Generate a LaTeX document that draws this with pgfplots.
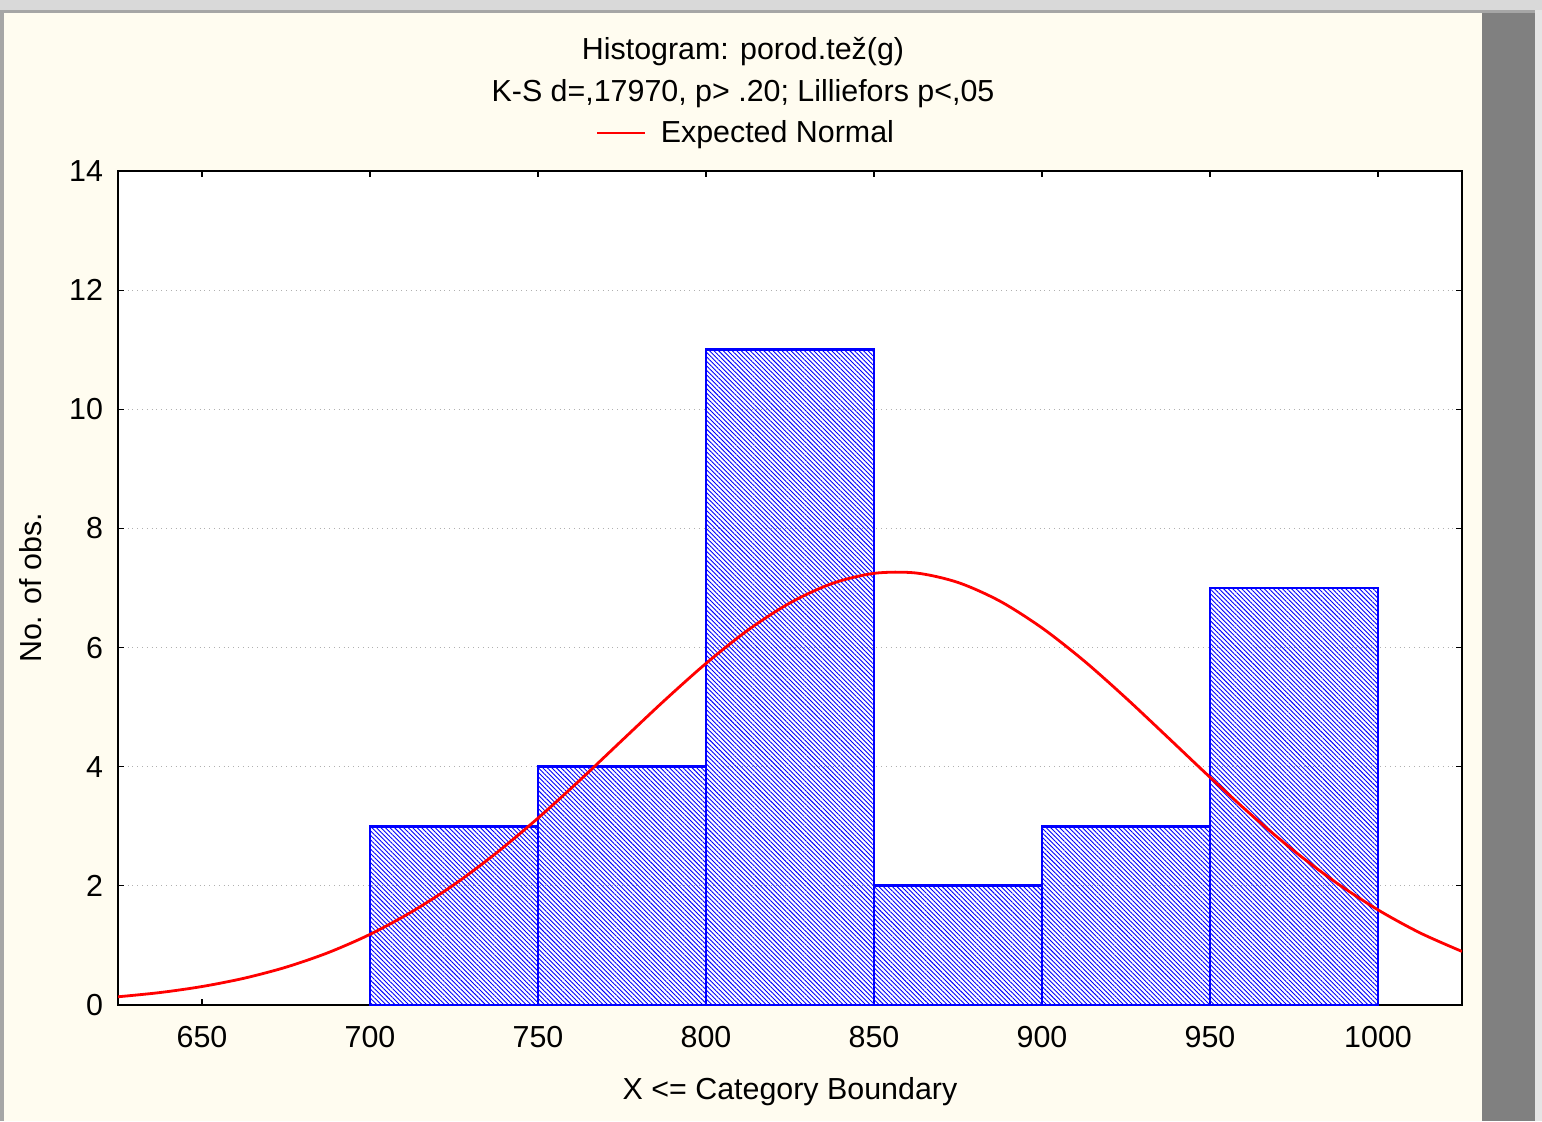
\documentclass[border=0pt]{standalone}
\usepackage{fontspec}
\setmainfont{Liberation Sans}
\usepackage{pgfplots}
\pgfplotsset{compat=1.18}
\usetikzlibrary{patterns.meta}

\definecolor{winbg}{HTML}{FFFCF0}
\definecolor{barblue}{HTML}{0000FF}
\definecolor{curvered}{HTML}{FF0000}
\definecolor{gridgray}{HTML}{B0B0B0}

\newcommand{\chartfont}{\fontsize{15.2}{18}\selectfont}

\begin{document}
% 1 px of the reference = 0.5pt
\begin{tikzpicture}
  \useasboundingbox (0pt,0pt) rectangle (771pt,560.5pt);
  % window frame
  \fill[winbg] (0pt,0pt) rectangle (771pt,560.5pt);
  \fill[gray!30] (0pt,555.5pt) rectangle (771pt,560.5pt);
  \fill[gray!70] (0pt,0pt) rectangle (2pt,555.5pt);
  \fill[gray!70] (0pt,554pt) rectangle (767.5pt,555.5pt);
  \fill[black!50] (741pt,0pt) rectangle (767.5pt,554pt);
  \fill[gray!20] (767.5pt,0pt) rectangle (771pt,555.5pt);

  % titles
  \node[font=\chartfont] at (371.5pt,534.5pt) {Histogram: porod.tež(g)};
  \node[font=\chartfont] at (371.5pt,513.5pt) {K-S d=,17970, p> .20; Lilliefors p<,05};

  \begin{axis}[
    at={(59pt,58pt)}, anchor=south west,
    scale only axis,
    width=672pt, height=417pt,
    xmin=625, xmax=1025,
    ymin=0, ymax=14,
    xtick={650,700,...,1000},
    ytick={0,2,...,14},
    tick pos=both,
    tick align=inside,
    major tick length=3pt,
    every tick/.style={black, line width=0.6pt},
    axis line style={line width=1.3pt},
    axis background/.style={fill=white},
    ymajorgrids,
    grid style={gridgray, dotted, line width=0.6pt},
    /pgf/number format/assume math mode=true,
    /pgf/number format/1000 sep={},
    ticklabel style={font=\chartfont},
    xticklabel style={yshift=-7pt},
    yticklabel style={xshift=-4pt},
    xlabel={X <= Category Boundary},
    ylabel={No. of obs.},
    label style={font=\chartfont},
    xlabel style={yshift=-8pt},
    ylabel style={yshift=7pt},
    legend style={at={(0.468,1.0456)}, anchor=center, draw=none, fill=none,
      font=\chartfont, column sep=5pt},
    legend cell align=left,
    legend image code/.code={\draw[#1, line width=1.4pt] (0pt,0pt) -- (24pt,0pt);},
    clip=true,
  ]
    \addplot[ybar interval, draw=barblue, line width=1.4pt,
      pattern={Lines[angle=-45, distance=1.6pt, line width=0.45pt]},
      pattern color=barblue, forget plot]
      coordinates {(700,3) (750,4) (800,11) (850,2) (900,3) (950,7) (1000,7)};
    \addplot[curvered, line width=1.4pt, smooth] coordinates {
      (625,0.138) (637.5,0.209) (650,0.310) (662.5,0.449) (675,0.635)
      (687.5,0.878) (700,1.186) (712.5,1.567) (725,2.020) (737.5,2.547)
      (750,3.137) (762.5,3.776) (775,4.442) (787.5,5.105) (800,5.734)
      (812.5,6.294) (825,6.750) (837.5,7.075) (850,7.246) (862.5,7.252)
      (875,7.093) (887.5,6.779) (900,6.330) (912.5,5.778) (925,5.152)
      (937.5,4.490) (950,3.823) (962.5,3.182) (975,2.587) (987.5,2.056)
      (1000,1.597) (1012.5,1.211) (1025,0.899)};
    \addlegendentry{Expected Normal}
  \end{axis}
\end{tikzpicture}
\end{document}
